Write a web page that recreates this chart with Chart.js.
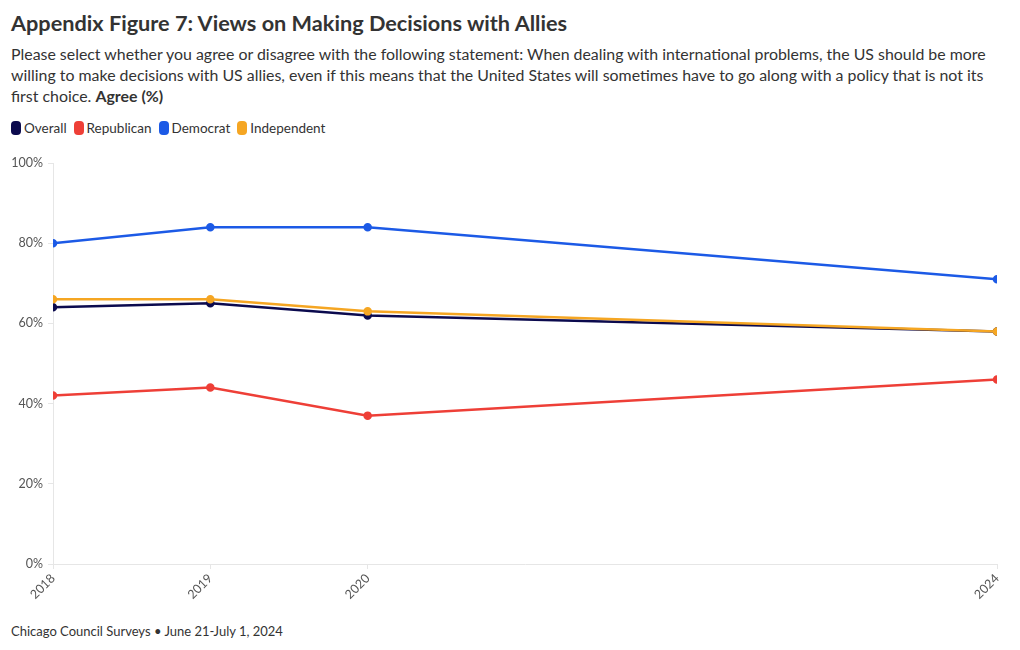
<!DOCTYPE html>
<html lang="en">
<head>
<meta charset="UTF-8">
<title>Appendix Figure 7</title>
<style>
    body {
        margin: 0;
        padding: 0;
        background: #fff;
        font-family: Lato, "Open Sans", sans-serif;
        color: #333;
        width: 1020px;
        height: 650px;
        position: relative;
        overflow: hidden;
    }
    h1 {
        position: absolute;
        left: 11px;
        top: 10px;
        margin: 0;
        font-size: 21.7px;
        font-weight: 700;
        color: #333;
    }
    .subtitle {
        position: absolute;
        left: 11px;
        top: 43px;
        width: 1000px;
        font-size: 15.9px;
        line-height: 21px;
        color: #333;
    }
    .legend {
        position: absolute;
        left: 11px;
        top: 120px;
        font-size: 13.5px;
        display: flex;
        gap: 7px;
    }
    .legend span { display: flex; align-items: center; }
    .legend i {
        display: inline-block;
        width: 10px;
        height: 14px;
        border-radius: 4px;
        margin-right: 3px;
    }
    .chart-box {
        position: absolute;
        left: 0;
        top: 150px;
        width: 1020px;
        height: 465px;
    }
    .footer {
        position: absolute;
        left: 11px;
        top: 623px;
        font-size: 13px;
        color: #333;
    }
</style>
</head>
<body>
    <h1>Appendix Figure 7: Views on Making Decisions with Allies</h1>
    <div class="subtitle">Please select whether you agree or disagree with the following statement: When dealing with international problems, the US should be more<br>willing to make decisions with US allies, even if this means that the United States will sometimes have to go along with a policy that is not its<br>first choice. <b>Agree (%)</b></div>
    <div class="legend" id="legend"></div>
    <div class="chart-box"><canvas id="chart"></canvas></div>
    <div class="footer">Chicago Council Surveys • June 21-July 1, 2024</div>

    <script src="https://cdn.jsdelivr.net/npm/chart.js"></script>
    <script>
        // data
        const years = [2018, 2019, 2020, 2024];
        const overall = [64, 65, 62, 58];
        const republican = [42, 44, 37, 46];
        const democrat = [80, 84, 84, 71];
        const independent = [66, 66, 63, 58];
        const yTicks = [0, 20, 40, 60, 80, 100];

        const series = [
            { label: 'Overall', data: overall, color: '#0b0a4e', order: 3 },
            { label: 'Republican', data: republican, color: '#ee3f37', order: 2 },
            { label: 'Democrat', data: democrat, color: '#1c5ae6', order: 1 },
            { label: 'Independent', data: independent, color: '#f5a623', order: 0 }
        ];

        // legend
        const legend = document.getElementById('legend');
        series.forEach(s => {
            const item = document.createElement('span');
            item.innerHTML = `<i style="background:${s.color}"></i>${s.label}`;
            legend.appendChild(item);
        });

        const ctx = document.getElementById('chart').getContext('2d');
        new Chart(ctx, {
            type: 'line',
            data: {
                datasets: series.map(s => ({
                    label: s.label,
                    data: years.map((y, i) => ({ x: y, y: s.data[i] })),
                    borderColor: s.color,
                    backgroundColor: s.color,
                    borderWidth: 2.5,
                    pointRadius: 3,
                    pointHoverRadius: 4,
                    tension: 0,
                    order: s.order
                }))
            },
            options: {
                responsive: true,
                maintainAspectRatio: false,
                animation: false,
                layout: { padding: { top: 13, right: 23, left: 0, bottom: 0 } },
                plugins: {
                    legend: { display: false },
                    tooltip: { enabled: false }
                },
                scales: {
                    x: {
                        type: 'linear',
                        min: 2018,
                        max: 2024,
                        afterBuildTicks: scale => {
                            scale.ticks = years.map(v => ({ value: v }));
                        },
                        afterFit: scale => { scale.height = 51; },
                        grid: {
                            drawOnChartArea: false,
                            drawTicks: true,
                            tickLength: 5,
                            color: '#e6e6e6'
                        },
                        border: { color: '#e6e6e6' },
                        ticks: {
                            minRotation: 45,
                            maxRotation: 45,
                            padding: 2,
                            color: '#555',
                            font: { family: 'Lato', size: 12.5 },
                            callback: v => String(v)
                        }
                    },
                    y: {
                        min: 0,
                        max: 100,
                        afterBuildTicks: scale => {
                            scale.ticks = yTicks.map(v => ({ value: v }));
                        },
                        afterFit: scale => { scale.width = 53; },
                        grid: {
                            drawOnChartArea: false,
                            tickLength: 5,
                            color: '#e6e6e6'
                        },
                        border: { color: '#e6e6e6' },
                        ticks: {
                            padding: 5,
                            color: '#555',
                            font: { family: 'Lato', size: 12.5 },
                            callback: v => v + '%'
                        }
                    }
                }
            }
        });
    </script>
</body>
</html>
